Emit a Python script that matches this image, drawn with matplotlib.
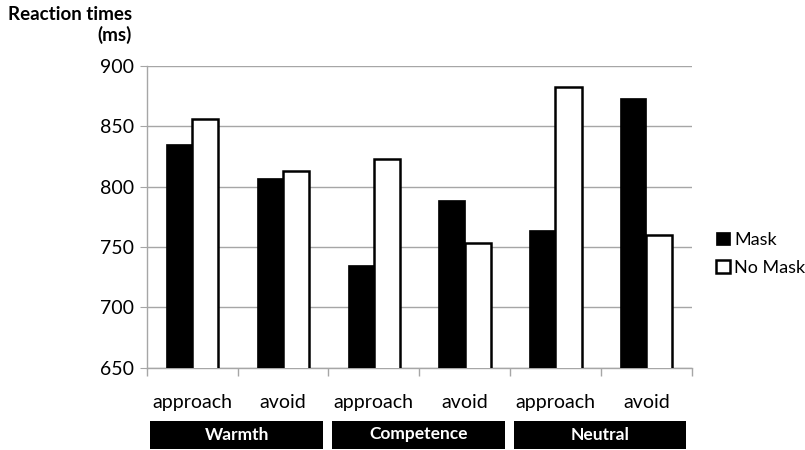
import matplotlib
matplotlib.use("Agg")
import matplotlib.pyplot as plt
import numpy as np
from matplotlib.patches import Patch, Rectangle
from matplotlib.transforms import blended_transform_factory

CONDITIONS = ["approach", "avoid", "approach", "avoid", "approach", "avoid"]
GROUPS = ["Warmth", "Competence", "Neutral"]
MASK = [835, 807, 735, 789, 764, 873]
NO_MASK = [856, 813, 823, 753, 882, 760]
Y_TICKS = [650, 700, 750, 800, 850, 900]

GRID = "#a6a6a6"
FONT = "Lato"

plt.rcParams.update({
    "font.family": [FONT, "DejaVu Sans"],
    "font.size": 14,
})

fig = plt.figure(figsize=(8.05, 4.5), dpi=100)
ax = fig.add_axes([146.7 / 805, 82.3 / 450, 545 / 805, 302 / 450])

x = np.arange(len(CONDITIONS))
width = 0.288
ax.bar(x - width / 2, MASK, width, color="black", edgecolor="black", linewidth=0.5,
       zorder=3, label="Mask")
ax.bar(x + width / 2, NO_MASK, width, color="white", edgecolor="black", linewidth=1.8,
       zorder=3, label="No Mask")

ax.set_ylim(650, 900)
ax.set_xlim(-0.5, len(CONDITIONS) - 0.5)
ax.set_yticks(Y_TICKS)
ax.grid(axis="y", color=GRID, linewidth=1.0, zorder=0)
ax.set_axisbelow(True)

for side in ["top", "right"]:
    ax.spines[side].set_visible(False)
for side in ["left", "bottom"]:
    ax.spines[side].set_color(GRID)
    ax.spines[side].set_linewidth(1.0)

ax.tick_params(axis="y", color=GRID, length=5, pad=4, labelsize=14)
ax.set_xticks(x, CONDITIONS)
ax.tick_params(axis="x", length=0, pad=19, labelsize=14)
ax.set_xticks(np.arange(-0.5, len(CONDITIONS)), minor=True)
ax.tick_params(axis="x", which="minor", length=6, color=GRID, width=1.0)

# group label boxes below the axis
trans = blended_transform_factory(ax.transData, fig.transFigure)
for i, name in enumerate(GROUPS):
    left = 2 * i - 0.5 + 0.04
    right = 2 * i + 1.5 - 0.06
    fig.patches.append(Rectangle((left, 1.5 / 450), right - left, 27.5 / 450,
                                 transform=trans, facecolor="black",
                                 edgecolor="none", figure=fig))
    fig.text((left + right) / 2, 15.5 / 450, name, transform=trans, color="white",
             fontsize=12.5, fontweight="bold", ha="center", va="center")

fig.text(132 / 805, 444 / 450, "Reaction times\n(ms)", ha="right", va="top",
         fontsize=13.5, fontweight="bold", linespacing=1.2)

handles = [Patch(facecolor="black", edgecolor="black", linewidth=0.5),
           Patch(facecolor="white", edgecolor="black", linewidth=1.8)]
fig.legend(handles, ["Mask", "No Mask"], loc="center left",
           bbox_to_anchor=(716 / 805, 196 / 450), frameon=False, fontsize=13,
           borderpad=0, borderaxespad=0,
           handlelength=0.75, handleheight=0.75, handletextpad=0.25,
           labelspacing=0.65)

fig.savefig("out.png", dpi=100, facecolor="white")
